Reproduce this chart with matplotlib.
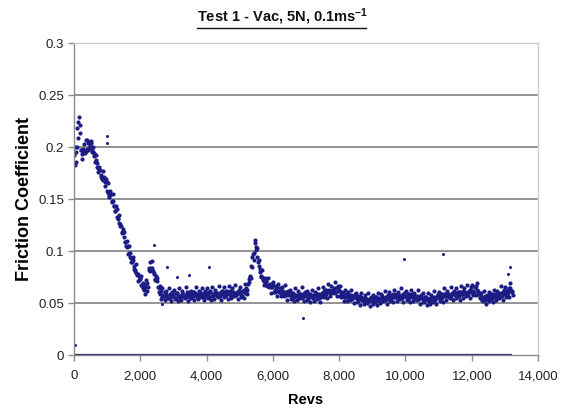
import matplotlib
matplotlib.use("Agg")
import matplotlib.pyplot as plt
import matplotlib.ticker as ticker
from matplotlib.lines import Line2D

plt.rcParams["font.family"] = ["Liberation Sans", "DejaVu Sans"]
plt.rcParams["mathtext.default"] = "regular"

# friction coefficient read every 50 revs, 0 .. 13200 (three readings per step)
start_rev = 0
step_rev = 50
friction_a = [
    0.192, 0.186, 0.218, 0.229, 0.197, 0.189, 0.203, 0.196, 0.207, 0.199,
    0.204, 0.195, 0.191, 0.188, 0.181, 0.178, 0.173, 0.169, 0.171, 0.166,
    0.158, 0.152, 0.155, 0.148, 0.143, 0.139, 0.133, 0.127, 0.124, 0.118,
    0.114, 0.109, 0.104, 0.098, 0.094, 0.089, 0.086, 0.081, 0.077, 0.072,
    0.074, 0.066, 0.063, 0.067, 0.062, 0.082, 0.089, 0.084, 0.078, 0.073,
    0.071, 0.064, 0.059, 0.056, 0.058, 0.061, 0.057, 0.055, 0.059, 0.057,
    0.058, 0.055, 0.060, 0.057, 0.054, 0.059, 0.058, 0.056, 0.061, 0.057,
    0.055, 0.059, 0.057, 0.060, 0.056, 0.058, 0.061, 0.057, 0.059, 0.056,
    0.060, 0.058, 0.062, 0.057, 0.059, 0.061, 0.058, 0.060, 0.057, 0.062,
    0.059, 0.061, 0.058, 0.060, 0.062, 0.057, 0.061, 0.059, 0.058, 0.060,
    0.061, 0.058, 0.062, 0.060, 0.064, 0.068, 0.076, 0.086, 0.097, 0.108,
    0.101, 0.089, 0.080, 0.076, 0.072, 0.069, 0.070, 0.066, 0.068, 0.065,
    0.067, 0.063, 0.065, 0.062, 0.064, 0.060, 0.062, 0.059, 0.061, 0.058,
    0.060, 0.057, 0.059, 0.056, 0.058, 0.057, 0.055, 0.059, 0.056, 0.058,
    0.057, 0.059, 0.056, 0.058, 0.055, 0.058, 0.060, 0.057, 0.059, 0.056,
    0.060, 0.062, 0.059, 0.061, 0.063, 0.060, 0.062, 0.064, 0.061, 0.065,
    0.062, 0.060, 0.058, 0.056, 0.059, 0.057, 0.055, 0.058, 0.056, 0.057,
    0.055, 0.057, 0.054, 0.056, 0.053, 0.055, 0.052, 0.054, 0.053, 0.055,
    0.052, 0.054, 0.056, 0.053, 0.055, 0.054, 0.057, 0.055, 0.056, 0.054,
    0.057, 0.055, 0.058, 0.056, 0.059, 0.057, 0.055, 0.058, 0.056, 0.059,
    0.057, 0.055, 0.058, 0.056, 0.059, 0.057, 0.055, 0.057, 0.054, 0.056,
    0.055, 0.053, 0.056, 0.054, 0.052, 0.055, 0.053, 0.056, 0.054, 0.057,
    0.055, 0.058, 0.056, 0.059, 0.057, 0.060, 0.058, 0.056, 0.059, 0.061,
    0.058, 0.060, 0.057, 0.061, 0.059, 0.062, 0.060, 0.058, 0.061, 0.063,
    0.060, 0.062, 0.065, 0.063, 0.061, 0.056, 0.053, 0.055, 0.057, 0.054,
    0.056, 0.058, 0.055, 0.057, 0.059, 0.056, 0.058, 0.060, 0.057, 0.061,
    0.059, 0.062, 0.060, 0.064, 0.061,
]
friction_b = [
    0.200, 0.195, 0.224, 0.221, 0.197, 0.198, 0.195, 0.207, 0.204, 0.205,
    0.206, 0.195, 0.194, 0.192, 0.180, 0.181, 0.171, 0.177, 0.170, 0.169,
    0.165, 0.153, 0.155, 0.155, 0.143, 0.143, 0.132, 0.135, 0.124, 0.121,
    0.118, 0.105, 0.105, 0.105, 0.093, 0.094, 0.083, 0.088, 0.078, 0.076,
    0.076, 0.064, 0.067, 0.072, 0.069, 0.084, 0.084, 0.090, 0.079, 0.076,
    0.074, 0.061, 0.062, 0.064, 0.057, 0.062, 0.056, 0.064, 0.059, 0.061,
    0.063, 0.055, 0.060, 0.064, 0.057, 0.062, 0.056, 0.065, 0.059, 0.061,
    0.062, 0.056, 0.061, 0.065, 0.058, 0.062, 0.057, 0.064, 0.060, 0.062,
    0.064, 0.056, 0.061, 0.065, 0.058, 0.063, 0.057, 0.066, 0.060, 0.062,
    0.065, 0.057, 0.062, 0.066, 0.059, 0.064, 0.058, 0.067, 0.061, 0.063,
    0.065, 0.057, 0.063, 0.068, 0.063, 0.073, 0.075, 0.094, 0.098, 0.111,
    0.103, 0.086, 0.083, 0.082, 0.071, 0.074, 0.067, 0.074, 0.067, 0.068,
    0.070, 0.061, 0.065, 0.068, 0.061, 0.065, 0.058, 0.067, 0.060, 0.062,
    0.063, 0.055, 0.060, 0.064, 0.057, 0.062, 0.056, 0.065, 0.059, 0.061,
    0.062, 0.054, 0.059, 0.063, 0.056, 0.061, 0.055, 0.064, 0.058, 0.060,
    0.065, 0.058, 0.063, 0.068, 0.061, 0.066, 0.061, 0.070, 0.064, 0.066,
    0.066, 0.056, 0.060, 0.063, 0.056, 0.061, 0.054, 0.063, 0.057, 0.059,
    0.060, 0.052, 0.056, 0.060, 0.053, 0.058, 0.051, 0.060, 0.054, 0.056,
    0.058, 0.051, 0.056, 0.060, 0.054, 0.059, 0.053, 0.062, 0.056, 0.058,
    0.061, 0.053, 0.059, 0.063, 0.056, 0.061, 0.055, 0.064, 0.058, 0.060,
    0.062, 0.054, 0.059, 0.063, 0.056, 0.060, 0.054, 0.063, 0.056, 0.058,
    0.060, 0.051, 0.056, 0.060, 0.053, 0.058, 0.052, 0.062, 0.056, 0.059,
    0.061, 0.054, 0.059, 0.064, 0.057, 0.062, 0.056, 0.065, 0.060, 0.062,
    0.064, 0.056, 0.061, 0.066, 0.059, 0.064, 0.058, 0.067, 0.062, 0.065,
    0.067, 0.060, 0.066, 0.069, 0.059, 0.060, 0.053, 0.062, 0.056, 0.058,
    0.061, 0.054, 0.059, 0.063, 0.057, 0.062, 0.056, 0.066, 0.060, 0.063,
    0.065, 0.058, 0.064, 0.069, 0.062,
]
friction_c = [
    0.183, 0.200, 0.209, 0.214, 0.193, 0.195, 0.194, 0.198, 0.197, 0.202,
    0.197, 0.200, 0.186, 0.185, 0.176, 0.178, 0.170, 0.168, 0.163, 0.166,
    0.156, 0.158, 0.147, 0.148, 0.139, 0.140, 0.131, 0.126, 0.117, 0.118,
    0.109, 0.110, 0.097, 0.098, 0.089, 0.091, 0.082, 0.079, 0.071, 0.073,
    0.067, 0.069, 0.059, 0.065, 0.065, 0.081, 0.083, 0.081, 0.072, 0.073,
    0.065, 0.066, 0.054, 0.057, 0.053, 0.059, 0.055, 0.055, 0.052, 0.058,
    0.054, 0.060, 0.052, 0.057, 0.053, 0.059, 0.055, 0.056, 0.052, 0.058,
    0.055, 0.061, 0.053, 0.058, 0.054, 0.060, 0.056, 0.056, 0.053, 0.059,
    0.055, 0.061, 0.053, 0.058, 0.054, 0.060, 0.056, 0.057, 0.053, 0.059,
    0.056, 0.062, 0.054, 0.059, 0.055, 0.061, 0.057, 0.058, 0.054, 0.060,
    0.056, 0.062, 0.055, 0.061, 0.059, 0.070, 0.074, 0.085, 0.091, 0.104,
    0.094, 0.091, 0.075, 0.075, 0.067, 0.071, 0.066, 0.065, 0.060, 0.065,
    0.061, 0.066, 0.057, 0.061, 0.057, 0.062, 0.057, 0.058, 0.053, 0.059,
    0.054, 0.060, 0.052, 0.057, 0.053, 0.059, 0.055, 0.056, 0.052, 0.058,
    0.053, 0.059, 0.051, 0.056, 0.052, 0.058, 0.054, 0.055, 0.051, 0.057,
    0.056, 0.063, 0.055, 0.061, 0.057, 0.063, 0.060, 0.061, 0.057, 0.063,
    0.057, 0.061, 0.052, 0.056, 0.052, 0.058, 0.053, 0.054, 0.050, 0.056,
    0.051, 0.057, 0.048, 0.053, 0.049, 0.055, 0.050, 0.051, 0.047, 0.053,
    0.049, 0.056, 0.048, 0.053, 0.050, 0.056, 0.052, 0.053, 0.049, 0.055,
    0.052, 0.058, 0.051, 0.056, 0.052, 0.058, 0.054, 0.055, 0.051, 0.057,
    0.053, 0.059, 0.051, 0.056, 0.052, 0.057, 0.053, 0.054, 0.049, 0.055,
    0.051, 0.056, 0.048, 0.053, 0.049, 0.055, 0.051, 0.053, 0.049, 0.056,
    0.052, 0.059, 0.051, 0.057, 0.053, 0.059, 0.055, 0.056, 0.053, 0.059,
    0.055, 0.061, 0.053, 0.059, 0.055, 0.061, 0.057, 0.058, 0.055, 0.062,
    0.058, 0.065, 0.058, 0.062, 0.055, 0.057, 0.052, 0.053, 0.049, 0.055,
    0.052, 0.059, 0.051, 0.056, 0.053, 0.059, 0.055, 0.057, 0.053, 0.060,
    0.056, 0.063, 0.056, 0.062, 0.058,
]

# stray points away from the main band
stray_revs = [20, 990, 1000, 2400, 2660, 2800, 3110, 3460, 4080, 6900,
              9960, 11130, 13100, 13140]
stray_vals = [0.010, 0.211, 0.204, 0.106, 0.049, 0.085, 0.075, 0.077, 0.085, 0.036,
              0.092, 0.097, 0.078, 0.085]

# zero trace along the axis
zero_revs = [0, 13200]
zero_vals = [0, 0]

navy = "#1c1c84"

fig = plt.figure(figsize=(5.67, 4.19), dpi=100)
ax = fig.add_axes([0.1305, 0.1527, 0.8185, 0.7443])

for k, series in enumerate([friction_a, friction_b, friction_c]):
    revs = [start_rev + i * step_rev + k * 17 for i in range(len(series))]
    ax.plot(revs, series, linestyle="none", color=navy,
            marker="o", markersize=3.0, markeredgewidth=0)
ax.plot(stray_revs, stray_vals, linestyle="none", color=navy,
        marker="o", markersize=2.2, markeredgewidth=0)
ax.plot(zero_revs, zero_vals, color="#22226e", linewidth=1.6, solid_capstyle="butt")

ax.set_xlim(0, 14000)
ax.set_ylim(0, 0.3)
ax.set_xticks(range(0, 14001, 2000))
ax.set_yticks([0, 0.05, 0.1, 0.15, 0.2, 0.25, 0.3])
ax.xaxis.set_major_formatter(ticker.FuncFormatter(lambda x, _: f"{x:,.0f}"))
ax.yaxis.set_major_formatter(ticker.FuncFormatter(lambda y, _: f"{y:g}"))

for y in [0.05, 0.1, 0.15, 0.2, 0.25]:
    ax.axhline(y, color="#8a8a8a", linewidth=1.3, zorder=0)

ax.spines["top"].set_color("#cfcfcf")
ax.spines["right"].set_color("#cfcfcf")
ax.spines["left"].set_color("#8a8a8a")
ax.spines["bottom"].set_color("#8a8a8a")
for s in ax.spines.values():
    s.set_linewidth(1.0)

ax.tick_params(direction="out", length=4, width=1, color="#8a8a8a",
               labelsize=9.5, labelcolor="#222222")
ax.tick_params(axis="x", pad=7)
ax.tick_params(axis="y", pad=3)

ax.set_xlabel("Revs", fontsize=10.5, fontweight="bold", labelpad=8)
ax.set_ylabel("Friction Coefficient", fontsize=13, fontweight="bold", labelpad=4)

title = fig.text(0.498, 0.960, "Test 1 - Vac, 5N, 0.1ms$^{-1}$", ha="center", va="center",
                 fontsize=10.5, fontweight="bold", color="#111111")

# underline the title
fig.canvas.draw()
bb = title.get_window_extent().transformed(fig.transFigure.inverted())
fig.add_artist(Line2D([bb.x0, bb.x1 - 0.004], [bb.y0 - 0.002, bb.y0 - 0.002],
                      transform=fig.transFigure, color="#111111", linewidth=1))

fig.savefig("out.png", dpi=100)
